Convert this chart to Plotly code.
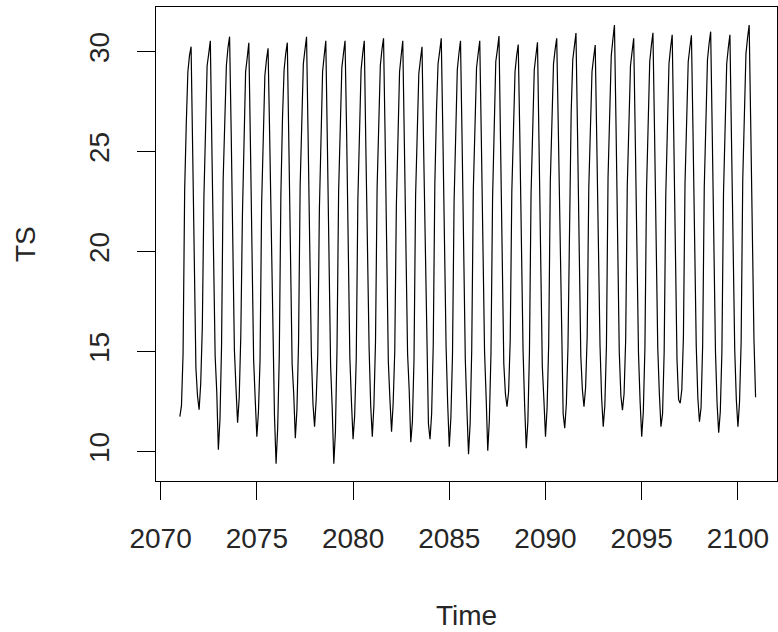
import plotly.graph_objects as go

start_year = 2071
y2071 = [11.75, 12.3, 14.9, 23.1, 26.4, 29.0, 29.8, 30.25, 25.0, 19.5, 14.2, 12.8]
y2072 = [12.1, 13.4, 16.2, 22.75, 26.75, 29.3, 29.9, 30.55, 25.0, 20.3, 14.8, 13.0]
y2073 = [10.1, 11.6, 15.3, 23.6, 26.8, 29.3, 30.2, 30.75, 26.0, 20.0, 15.1, 13.2]
y2074 = [11.45, 12.7, 15.8, 21.8, 26.5, 29.0, 29.7, 30.45, 25.4, 19.6, 14.6, 12.6]
y2075 = [10.75, 12.0, 14.6, 22.4, 26.2, 28.8, 29.6, 30.17, 25.8, 20.4, 15.0, 11.8]
y2076 = [9.4, 11.2, 14.8, 22.9, 26.7, 29.1, 29.9, 30.45, 25.2, 19.8, 14.4, 12.9]
y2077 = [10.67, 12.1, 15.4, 23.3, 27.0, 29.4, 30.1, 30.75, 25.6, 20.1, 14.9, 12.4]
y2078 = [11.25, 12.6, 14.9, 22.1, 26.4, 29.0, 29.8, 30.55, 25.3, 19.4, 14.3, 12.2]
y2079 = [9.4, 11.0, 15.2, 23.0, 26.9, 29.2, 29.9, 30.55, 25.9, 20.6, 14.7, 12.5]
y2080 = [10.63, 11.8, 14.7, 22.6, 26.3, 29.1, 29.9, 30.55, 25.1, 19.7, 15.2, 12.3]
y2081 = [10.75, 12.3, 15.5, 23.2, 26.8, 29.3, 30.1, 30.67, 25.7, 20.2, 14.5, 12.6]
y2082 = [11.0, 12.4, 15.0, 22.3, 26.5, 29.0, 29.8, 30.55, 25.4, 19.9, 14.9, 13.1]
y2083 = [10.47, 11.5, 14.6, 22.8, 26.6, 28.9, 29.6, 30.25, 25.2, 20.0, 14.7, 11.4]
y2084 = [10.63, 11.9, 15.3, 23.4, 27.0, 29.4, 30.0, 30.67, 25.9, 20.5, 15.3, 12.4]
y2085 = [10.25, 11.7, 14.8, 22.5, 26.4, 29.1, 29.9, 30.55, 25.5, 19.6, 14.6, 12.1]
y2086 = [9.87, 11.4, 15.1, 23.1, 26.9, 29.2, 29.9, 30.55, 25.6, 20.3, 15.0, 12.7]
y2087 = [10.05, 11.6, 14.9, 22.7, 26.6, 29.5, 30.1, 30.78, 25.3, 19.8, 14.4, 12.9]
y2088 = [12.25, 13.0, 15.6, 23.0, 26.7, 29.0, 29.8, 30.36, 25.7, 20.4, 15.1, 12.3]
y2089 = [10.17, 11.5, 15.0, 22.9, 26.5, 29.1, 29.8, 30.47, 25.2, 19.7, 14.3, 12.6]
y2090 = [10.75, 12.2, 15.4, 23.5, 27.0, 29.4, 30.1, 30.67, 26.1, 20.6, 15.4, 11.9]
y2091 = [11.17, 12.4, 15.2, 22.6, 26.9, 29.6, 30.3, 30.93, 25.8, 20.2, 14.8, 13.1]
y2092 = [12.25, 13.2, 15.8, 23.2, 26.6, 29.0, 29.7, 30.33, 25.4, 19.9, 15.3, 12.7]
y2093 = [11.25, 12.3, 15.3, 23.7, 27.4, 29.8, 30.6, 31.33, 26.2, 20.5, 15.0, 12.8]
y2094 = [12.08, 12.9, 15.6, 23.3, 26.9, 29.3, 30.0, 30.67, 25.6, 20.1, 14.9, 12.5]
y2095 = [10.75, 12.0, 15.2, 23.1, 27.0, 29.5, 30.3, 30.95, 26.0, 20.4, 15.2, 12.9]
y2096 = [11.25, 11.9, 15.0, 22.8, 26.8, 29.4, 30.2, 30.85, 25.7, 20.0, 14.6, 12.6]
y2097 = [12.42, 13.1, 15.7, 23.4, 27.1, 29.5, 30.2, 30.82, 25.9, 20.3, 15.3, 12.7]
y2098 = [11.5, 12.2, 15.3, 23.2, 27.1, 29.6, 30.4, 31.0, 25.8, 20.6, 15.0, 12.4]
y2099 = [10.95, 12.0, 15.0, 22.9, 26.9, 29.4, 30.2, 30.85, 25.5, 20.2, 15.1, 12.6]
y2100 = [11.25, 12.5, 15.5, 23.6, 27.4, 29.9, 30.7, 31.33, 26.25, 20.4, 15.6, 12.72]

years = [y2071, y2072, y2073, y2074, y2075, y2076, y2077, y2078, y2079, y2080,
         y2081, y2082, y2083, y2084, y2085, y2086, y2087, y2088, y2089, y2090,
         y2091, y2092, y2093, y2094, y2095, y2096, y2097, y2098, y2099, y2100]

x_ticks = [2070, 2075, 2080, 2085, 2090, 2095, 2100]
y_ticks = [10, 15, 20, 25, 30]

values = [v for yr in years for v in yr]
times = [start_year + i / 12 for i in range(len(values))]

FONT = "Liberation Sans, Arial, sans-serif"
TEXT_COLOR = "#262626"
fig = go.Figure()
fig.add_trace(go.Scatter(x=times, y=values, mode="lines",
                         line=dict(color="black", width=1.2), showlegend=False,
                         hoverinfo="skip"))

fig.update_layout(
    width=778, height=632,
    margin=dict(l=156, r=1, t=7, b=151),
    paper_bgcolor="white", plot_bgcolor="white",
    font=dict(family=FONT, size=28, color=TEXT_COLOR),
    xaxis=dict(range=[2069.76, 2102.03], tickvals=x_ticks, ticktext=[str(v) for v in x_ticks],
               ticks="outside", ticklen=18, tickwidth=1, tickcolor="black",
               showline=True, linecolor="black", linewidth=1, mirror=True,
               showgrid=False, zeroline=False, ticklabelstandoff=14),
    yaxis=dict(range=[8.535, 32.235], tickvals=y_ticks, ticktext=[str(v) for v in y_ticks],
               ticks="outside", ticklen=18, tickwidth=1, tickcolor="black", tickangle=-90,
               showline=True, linecolor="black", linewidth=1, mirror=True,
               showgrid=False, zeroline=False, ticklabelstandoff=17),
    annotations=[
        dict(text="Time", xref="paper", yref="paper", x=0.5, y=0, yshift=-134,
             xanchor="center", yanchor="middle", showarrow=False,
             font=dict(family=FONT, size=28, color=TEXT_COLOR)),
        dict(text="TS", xref="paper", yref="paper", x=0, y=0.5, xshift=-131,
             xanchor="center", yanchor="middle", textangle=-90, showarrow=False,
             font=dict(family=FONT, size=28, color=TEXT_COLOR)),
    ],
)

fig.write_html("out.html", config={"displayModeBar": False, "staticPlot": True},
               post_script="document.body.style.margin='0';document.body.style.padding='0';")
